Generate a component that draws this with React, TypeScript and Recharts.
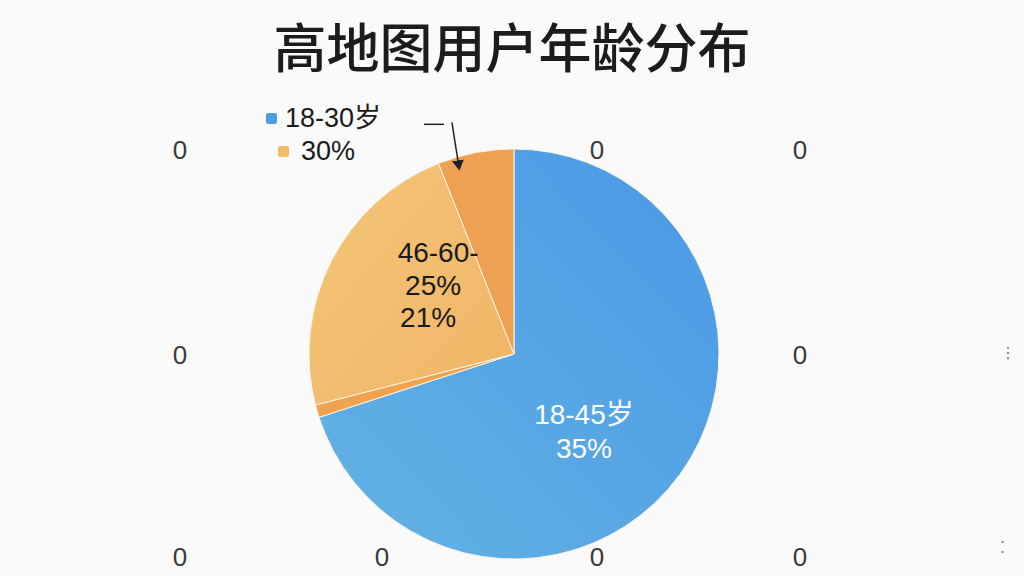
import React from 'react';
import { PieChart, Pie, Cell, Legend } from 'recharts';

// slices, clockwise from 12 o'clock
const ageGroups = ['18-45岁', '边缘', '46-60-', '其他'];
const shares = [70, 1, 23, 6];
const sliceLabels = [['18-45岁', '35%'], [], ['46-60-', '25%', '21%'], []];
const legendNames = ['18-30岁', '30%'];
const zeroTicks = ['0', '0', '0', '0', '0', '0', '0', '0', '0'];

const data = ageGroups.map((name, i) => ({ name, value: shares[i] }));

const fills = ['url(#blueGrad)', '#f0a24f', 'url(#orangeGrad)', '#efa153'];
const legendColors = ['#4e9de3', '#f2bb6a'];

// where the stray "0" ticks sit (layout only)
const zeroSpots: [number, number][] = [
  [180, 150], [597, 150], [800, 150],
  [180, 355], [800, 355],
  [180, 557], [382, 557], [597, 557], [800, 557],
];

const RAD = Math.PI / 180;
const font = '"Liberation Sans", "Noto Sans CJK SC", sans-serif';

const renderLabel = (props: any) => {
  const { cx, cy, outerRadius, index } = props;
  const lines = sliceLabels[index];
  if (index === 0 || index === 2) {
    const angle = index === 0 ? -48 : 139;
    const r = outerRadius * 0.51;
    const x = cx + r * Math.cos(angle * RAD);
    const y = cy - r * Math.sin(angle * RAD);
    const color = index === 0 ? '#ffffff' : '#1a1a1a';
    const step = index === 0 ? 34 : 32.5;
    const shifts = index === 0 ? [0, 0] : [3, -2, -7];
    const top = y - ((lines.length - 1) * step) / 2;
    return (
      <g>
        {lines.map((t, k) => (
          <text
            key={k}
            x={x + shifts[k]}
            y={top + k * step}
            textAnchor="middle"
            dominantBaseline="central"
            fill={color}
            fontSize={28}
            fontFamily={font}
          >
            {t}
          </text>
        ))}
      </g>
    );
  }
  if (index === 3) {
    const a1 = 105 * RAD;
    const a2 = 106.5 * RAD;
    const x1 = cx + outerRadius * 1.17 * Math.cos(a1);
    const y1 = cy - outerRadius * 1.17 * Math.sin(a1);
    const x2 = cx + outerRadius * 0.94 * Math.cos(a2);
    const y2 = cy - outerRadius * 0.94 * Math.sin(a2);
    return (
      <g>
        <line x1={x1 - 28} y1={y1 + 2} x2={x1 - 8} y2={y1 + 2} stroke="#222" strokeWidth={1.5} />
        <line x1={x1} y1={y1} x2={x2} y2={y2} stroke="#222" strokeWidth={1.5} markerEnd="url(#arrowHead)" />
      </g>
    );
  }
  return null;
};

const renderLegend = () => (
  <div style={{ fontFamily: font, fontSize: 27, color: '#1a1a1a', lineHeight: '33px' }}>
    {legendNames.map((n, i) => (
      <div key={n} style={{ display: 'flex', alignItems: 'center', marginLeft: i * 12 }}>
        <span
          style={{
            display: 'inline-block',
            width: 11,
            height: 11,
            borderRadius: 2,
            background: legendColors[i],
            marginRight: i === 0 ? 8 : 12,
          }}
        />
        {n}
      </div>
    ))}
  </div>
);

export default function App() {
  return (
    <div
      style={{
        position: 'absolute',
        left: 0,
        top: 0,
        width: 1024,
        height: 576,
        background: '#fafafa',
        overflow: 'hidden',
      }}
    >
      <div
        style={{
          position: 'absolute',
          top: 13,
          width: 1024,
          textAlign: 'center',
          fontFamily: '"Noto Sans CJK SC", sans-serif',
          fontSize: 53,
          fontWeight: 500,
          color: '#1c1c1c',
          lineHeight: '64px',
        }}
      >
        高地图用户年龄分布
      </div>
      {zeroTicks.map((t, i) => (
        <div
          key={i}
          style={{
            position: 'absolute',
            left: zeroSpots[i][0] - 20,
            top: zeroSpots[i][1] - 16,
            width: 40,
            textAlign: 'center',
            fontFamily: font,
            fontSize: 26,
            lineHeight: '32px',
            color: '#3a3a3a',
          }}
        >
          {t}
        </div>
      ))}
      <div style={{ position: 'absolute', left: 1000, top: 343, color: '#777', fontSize: 16, fontFamily: '"DejaVu Sans", sans-serif' }}>
        ⋮
      </div>
      <div style={{ position: 'absolute', left: 1000, top: 538, color: '#777', fontSize: 16, fontFamily: '"DejaVu Sans", sans-serif' }}>
        ⁚
      </div>
      <div style={{ position: 'absolute', left: 0, top: 0 }}>
        <PieChart width={1024} height={576} margin={{ top: 0, right: 0, bottom: 0, left: 0 }}>
          <defs>
            <linearGradient id="blueGrad" x1="1" y1="0" x2="0" y2="1">
              <stop offset="0%" stopColor="#4a98e6" />
              <stop offset="100%" stopColor="#63b3e3" />
            </linearGradient>
            <linearGradient id="orangeGrad" x1="0" y1="0" x2="1" y2="1">
              <stop offset="0%" stopColor="#f4c677" />
              <stop offset="100%" stopColor="#f0b466" />
            </linearGradient>
            <marker id="arrowHead" markerWidth="8" markerHeight="8" refX="6" refY="4" orient="auto">
              <path d="M0,0 L7,4 L0,8 Z" fill="#222" />
            </marker>
          </defs>
          <Pie
            data={data}
            dataKey="value"
            nameKey="name"
            cx={514}
            cy={354}
            outerRadius={205}
            startAngle={90}
            endAngle={-270}
            stroke="#fdf3e6"
            strokeWidth={1}
            label={renderLabel}
            labelLine={false}
            isAnimationActive={false}
          >
            {data.map((d, i) => (
              <Cell key={d.name} fill={fills[i]} />
            ))}
          </Pie>
          <Legend
            content={renderLegend}
            wrapperStyle={{ position: 'absolute', left: 266, top: 102, width: 200 }}
          />
        </PieChart>
      </div>
    </div>
  );
}
